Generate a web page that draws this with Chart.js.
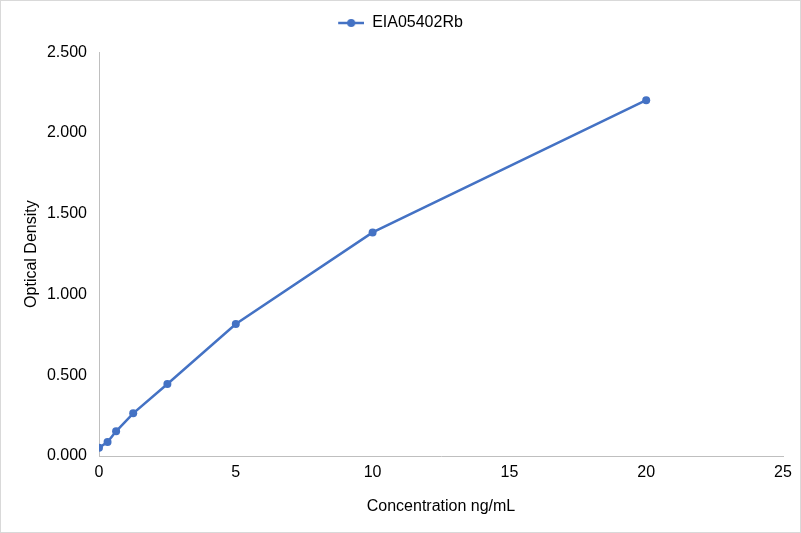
<!DOCTYPE html>
<html>
<head>
<meta charset="utf-8">
<script src="https://cdn.jsdelivr.net/npm/chart.js@4.4.0/dist/chart.umd.min.js"></script>
<style>
html,body{margin:0;padding:0;background:#fff;}
#wrap{width:801px;height:533px;position:relative;}
</style>
</head>
<body>
<div id="wrap"><canvas id="c" width="801" height="533"></canvas></div>
<script>
const seriesName = "EIA05402Rb";
const concentrations = [0, 0.3125, 0.625, 1.25, 2.5, 5, 10, 20];
const opticalDensity = [0.051, 0.087, 0.153, 0.264, 0.446, 0.817, 1.384, 2.203];
const xTitle = "Concentration ng/mL";
const yTitle = "Optical Density";

const blue = "#4472C4";
const fontFamily = "'Liberation Sans', Arial, sans-serif";
const fontSize = 16;

// legend marker: line with circle (transparent left margin to center the item like the reference)
const marker = document.createElement('canvas');
marker.width = 44; marker.height = 10;
(function(){
  const g = marker.getContext('2d');
  g.strokeStyle = blue; g.lineWidth = 2.5;
  g.beginPath(); g.moveTo(18, 5); g.lineTo(44, 5); g.stroke();
  g.fillStyle = blue;
  g.beginPath(); g.arc(31, 5, 4, 0, Math.PI*2); g.fill();
})();

const bgPlugin = {
  id: 'bg',
  beforeDraw(chart){
    const ctx = chart.ctx;
    ctx.save();
    ctx.fillStyle = '#fff';
    ctx.fillRect(0,0,chart.width,chart.height);
    ctx.strokeStyle = '#d9d9d9';
    ctx.lineWidth = 1;
    ctx.strokeRect(0.5,0.5,chart.width-1,chart.height-1);
    ctx.restore();
  }
};

new Chart(document.getElementById('c'), {
  type: 'scatter',
  data: {
    datasets: [{
      label: seriesName,
      data: concentrations.map((x,i)=>({x:x, y:opticalDensity[i]})),
      showLine: true,
      borderColor: blue,
      backgroundColor: blue,
      borderWidth: 2.5,
      pointRadius: 4,
      pointHoverRadius: 4,
      pointBorderWidth: 0,
      tension: 0
    }]
  },
  options: {
    responsive: false,
    animation: false,
    devicePixelRatio: 1,
    layout: { padding: { left: 0, right: 18, top: 3, bottom: 0 } },
    plugins: {
      legend: {
        position: 'top',
        weight: 2000,
        labels: {
          font: { family: fontFamily, size: fontSize },
          color: '#000',
          usePointStyle: true,
          pointStyleWidth: 44,
          boxHeight: 10,
          padding: 12,
          generateLabels(chart){
            return [{ text: seriesName, pointStyle: marker, fillStyle: blue, strokeStyle: blue, lineWidth: 0, datasetIndex: 0, fontColor: '#000' }];
          }
        }
      },
      subtitle: {
        display: true,
        text: '',
        weight: 500,
        font: { size: 1 },
        padding: { top: 10, bottom: 0 }
      },
      tooltip: { enabled: false }
    },
    scales: {
      x: {
        type: 'linear',
        min: 0, max: 25,
        ticks: { stepSize: 5, color: '#000', font: { family: fontFamily, size: fontSize }, padding: 7 },
        grid: { display: false, drawTicks: false },
        border: { display: true, color: '#bfbfbf', width: 1 },
        title: { display: true, text: xTitle, color: '#000', font: { family: fontFamily, size: fontSize }, padding: { top: 6, bottom: 17 } },
        afterFit(s){ s.height = 77; }
      },
      y: {
        type: 'linear',
        min: 0, max: 2.5,
        ticks: { stepSize: 0.5, color: '#000', font: { family: fontFamily, size: fontSize }, padding: 12,
          callback: v => v.toFixed(3) },
        grid: { display: false, drawTicks: false },
        border: { display: true, color: '#bfbfbf', width: 1 },
        title: { display: true, text: yTitle, color: '#000', font: { family: fontFamily, size: fontSize }, padding: { top: 22, bottom: 4 } },
        afterFit(s){ s.width = 99; }
      }
    }
  },
  plugins: [bgPlugin]
});
</script>
</body>
</html>
